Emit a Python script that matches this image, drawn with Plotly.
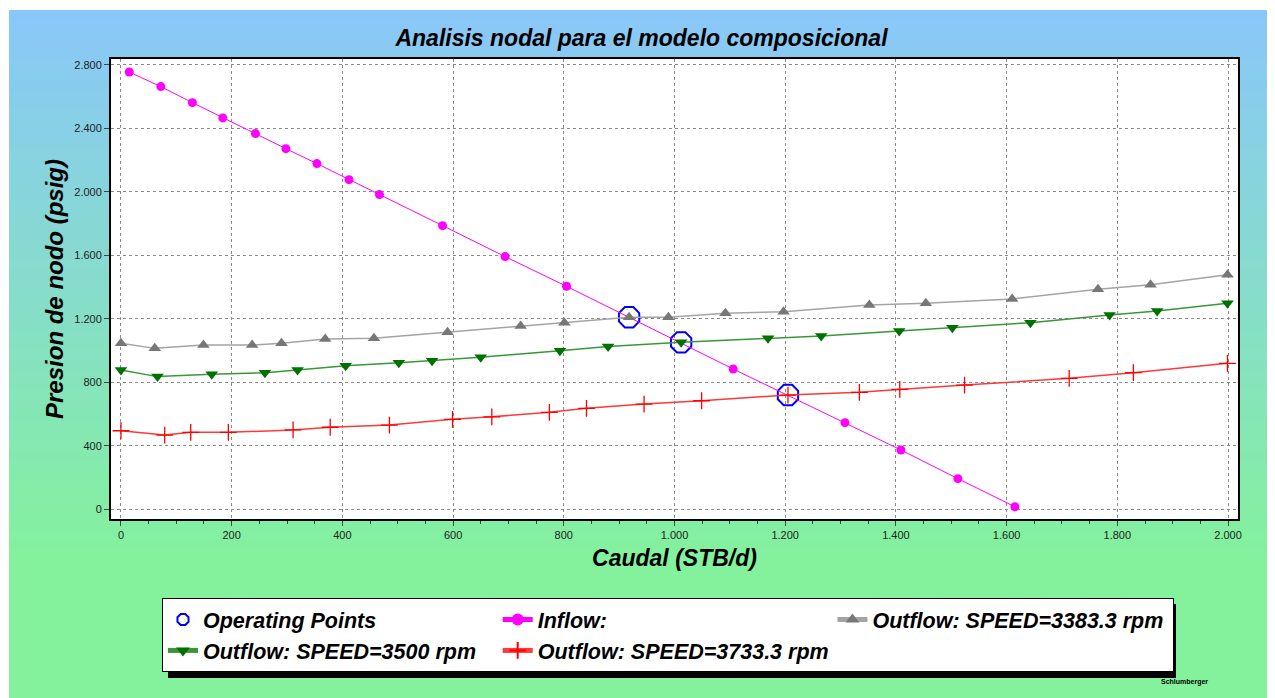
import plotly.graph_objects as go

# data
inflow_q = [15, 72, 129, 184, 243, 298, 354, 412, 467, 581, 694, 805, 1106, 1308, 1409, 1512, 1615]
inflow_p = [2755, 2663, 2562, 2466, 2367, 2272, 2178, 2077, 1983, 1787, 1592, 1405, 884, 546, 374, 193, 16]

out3383_q = [0, 61, 149, 237, 290, 369, 457, 590, 722, 801, 918, 989, 1092, 1197, 1352, 1454, 1610, 1765, 1860, 1999]
out3383_p = [1046, 1014, 1035, 1035, 1046, 1073, 1077, 1115, 1155, 1176, 1210, 1210, 1235, 1245, 1287, 1298, 1325, 1386, 1415, 1478]

out3500_q = [0, 66, 164, 260, 319, 406, 502, 562, 650, 793, 880, 1012, 1169, 1265, 1406, 1502, 1643, 1786, 1872, 1999]
out3500_p = [878, 836, 851, 861, 878, 905, 924, 936, 958, 999, 1025, 1052, 1077, 1092, 1124, 1144, 1176, 1224, 1250, 1298]

out3733_q = [0, 79, 126, 194, 311, 378, 485, 599, 670, 774, 841, 945, 1049, 1205, 1334, 1407, 1524, 1713, 1829, 1999]
out3733_p = [495, 468, 485, 485, 500, 517, 531, 567, 583, 611, 636, 663, 684, 720, 737, 756, 783, 825, 861, 920]

op_q = [918, 1012, 1205]
op_p = [1210, 1052, 720]

# page body has an 8px margin, so figure coords = screen coords - 8
OFF = 8
W, H = 1275 - OFF, 698 - OFF
L, R, T, B = 111 - OFF, 1238 - OFF, 59 - OFF, 519 - OFF


def px_x(x):
    return (x - OFF - L) / (R - L)


def px_y(y):
    return (B - (y - OFF)) / (B - T)


FONT = "Liberation Sans"

fig = go.Figure()

fig.add_trace(go.Scatter(
    x=op_q, y=op_p, mode='markers', name='Operating Points',
    marker=dict(symbol='octagon-open', size=22, color='#0000ee', line=dict(width=2, color='#0000ee'))
))
fig.add_trace(go.Scatter(
    x=inflow_q, y=inflow_p, mode='lines+markers', name='Inflow:',
    line=dict(color='#ff00ff', width=1),
    marker=dict(symbol='circle', size=9, color='#ff00ff')
))
fig.add_trace(go.Scatter(
    x=out3383_q, y=out3383_p, mode='lines+markers', name='Outflow: SPEED=3383.3 rpm',
    line=dict(color='#a4a4a4', width=1.5),
    marker=dict(symbol='triangle-up', size=11, color='#777777')
))
fig.add_trace(go.Scatter(
    x=out3500_q, y=out3500_p, mode='lines+markers', name='Outflow: SPEED=3500 rpm',
    line=dict(color='#389838', width=1.5),
    marker=dict(symbol='triangle-down', size=11, color='#007000')
))
fig.add_trace(go.Scatter(
    x=out3733_q, y=out3733_p, mode='lines+markers', name='Outflow: SPEED=3733.3 rpm',
    line=dict(color='#ff3838', width=1.5),
    marker=dict(symbol='cross-thin', size=12, color='#ff0000', line=dict(width=1.3, color='#ff0000'))
))

# background gradient (blue at top to green at bottom)
shapes = []
top_c = (0x89, 0xC7, 0xF9)
bot_c = (0x84, 0xF2, 0x9C)
g0, g1 = 10, 570
n = 56
for i in range(n):
    y0 = g0 + (g1 - g0) * i / n
    y1 = g0 + (g1 - g0) * (i + 1) / n + 0.5
    t = i / (n - 1)
    c = tuple(round(top_c[k] + (bot_c[k] - top_c[k]) * t) for k in range(3))
    shapes.append(dict(type='rect', xref='paper', yref='paper', layer='below',
                       x0=px_x(9), x1=px_x(1280), y0=px_y(y0), y1=px_y(y1),
                       fillcolor='rgb(%d,%d,%d)' % c, line=dict(width=0)))
shapes.append(dict(type='rect', xref='paper', yref='paper', layer='below',
                   x0=px_x(9), x1=px_x(1280), y0=px_y(g1), y1=px_y(705),
                   fillcolor='rgb(%d,%d,%d)' % bot_c, line=dict(width=0)))
# white plot area over the gradient
shapes.append(dict(type='rect', xref='paper', yref='paper', layer='below',
                   x0=0, x1=1, y0=0, y1=1, fillcolor='white', line=dict(width=0)))
# legend shadow
shapes.append(dict(type='rect', xref='paper', yref='paper', layer='below',
                   x0=px_x(168), x1=px_x(1176), y0=px_y(604), y1=px_y(678),
                   fillcolor='black', line=dict(width=0)))

fig.update_layout(
    width=W, height=H,
    margin=dict(l=L, r=W - R, t=T, b=H - B, autoexpand=False),
    paper_bgcolor='white',
    plot_bgcolor='white',
    separators=',.',
    shapes=shapes,
    title=dict(text='<b><i>Analisis nodal para el modelo composicional</i></b>',
               x=0.5, xanchor='center', y=1 - (38 - OFF) / H, yanchor='middle',
               font=dict(family=FONT, size=23, color='black')),
    xaxis=dict(
        range=[-18, 2018], tickvals=[0, 200, 400, 600, 800, 1000, 1200, 1400, 1600, 1800, 2000],
        tickformat=',d', ticks='outside', ticklen=5, tickcolor='#444',
        minor=dict(dtick=50, ticks='outside', ticklen=3, tickcolor='#444', showgrid=False),
        showgrid=True, gridcolor='#8a8a8a', griddash='3px,3px', gridwidth=1,
        showline=True, linecolor='black', linewidth=2, mirror=True, zeroline=False,
        tickfont=dict(family=FONT, size=11, color='#222'),
        title=dict(text='<b><i>Caudal (STB/d)</i></b>', standoff=10,
                   font=dict(family=FONT, size=23, color='black')),
    ),
    yaxis=dict(
        range=[-61, 2837], tickvals=[0, 400, 800, 1200, 1600, 2000, 2400, 2800],
        tickformat=',d', ticks='outside', ticklen=5, tickcolor='#444',
        showgrid=True, gridcolor='#8a8a8a', griddash='3px,3px', gridwidth=1,
        showline=True, linecolor='black', linewidth=2, mirror=True, zeroline=False,
        tickfont=dict(family=FONT, size=11, color='#222'),
        title=dict(text='<b><i>Presion de nodo (psig)</i></b>', standoff=4,
                   font=dict(family=FONT, size=24, color='black')),
    ),
    legend=dict(
        orientation='h', x=px_x(162), xanchor='left', y=px_y(598), yanchor='top',
        bgcolor='white', bordercolor='black', borderwidth=1,
        entrywidth=0.297, entrywidthmode='fraction',
        font=dict(family=FONT, size=21.5, color='black', weight='bold', style='italic'),
        itemsizing='constant', traceorder='normal',
    ),
    annotations=[dict(text='<b>Schlumberger</b>', xref='paper', yref='paper',
                      x=px_x(1210), y=px_y(688), showarrow=False,
                      font=dict(family=FONT, size=7, color='black'))],
    showlegend=True,
)

fig.write_html("out.html")
